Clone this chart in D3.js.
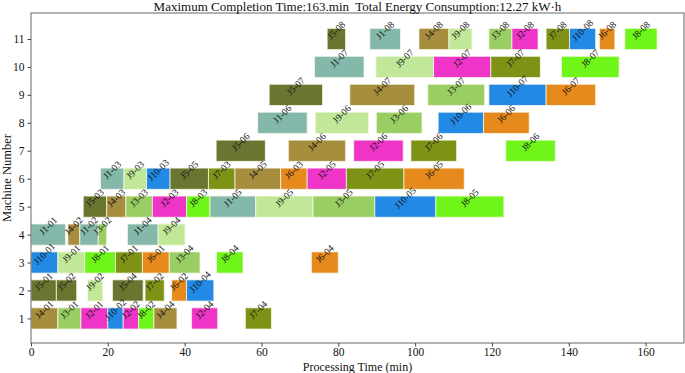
<!DOCTYPE html>
<html><head><meta charset="utf-8">
<script src="https://cdn.jsdelivr.net/npm/d3@7"></script>
<style>body{margin:0;background:#fff} svg{display:block}</style>
</head><body>
<script>
const titleText = "Maximum Completion Time:163.min  Total Energy Consumption:12.27 kW·h";
const xLabel = "Processing Time (min)";
const yLabel = "Machine Number";
const machineTicks = [1,2,3,4,5,6,7,8,9,10,11];
const timeTicks = [0,20,40,60,80,100,120,140,160];

const opLabels = [
 "J4-01","J3-01","J2-01","J10-02","J2-02","J8-02","J4-04","J2-04","J7-04",
 "J5-01","J5-02","J9-02","J5-04","J7-02","J6-02","J10-04",
 "J10-01","J9-01","J8-01","J7-01","J6-01","J3-04","J8-04","J6-04",
 "J1-01","J4-02","J1-02","J3-02","J1-04","J9-04",
 "J5-03","J4-03","J3-03","J2-03","J8-03","J1-05","J9-05","J3-05","J10-05","J8-05",
 "J1-03","J9-03","J10-03","J5-05","J7-03","J4-05","J6-03","J2-05","J7-05","J6-05",
 "J5-06","J4-06","J2-06","J7-06","J8-06",
 "J1-06","J9-06","J3-06","J10-06","J6-06",
 "J5-07","J4-07","J3-07","J10-07","J6-07",
 "J1-07","J9-07","J2-07","J7-07","J8-07",
 "J5-08","J1-08","J4-08","J9-08","J3-08","J2-08","J7-08","J10-08","J6-08","J8-08"
];
const opMachine = [
 1,1,1,1,1,1,1,1,1,
 2,2,2,2,2,2,2,
 3,3,3,3,3,3,3,3,
 4,4,4,4,4,4,
 5,5,5,5,5,5,5,5,5,5,
 6,6,6,6,6,6,6,6,6,6,
 7,7,7,7,7,
 8,8,8,8,8,
 9,9,9,9,9,
 10,10,10,10,10,
 11,11,11,11,11,11,11,11,11,11
];
const opStart = [
 0,7,13,20,24,28,32,41.8,55.8,
 0,6.6,14.7,21.2,29.7,36.6,40.5,
 0,7,14,22,29,36,48.3,73,
 0,9.6,12.7,17.5,25.1,33.1,
 13.6,19.7,24.7,31.6,40.5,46.6,58.5,73.4,89.5,105.4,
 18.1,24.2,30.1,36.2,46.2,53.1,65,71.9,82.1,97.1,
 48.2,67,84,98.9,123.6,
 59,74,89.9,106,117.8,
 62,83,103.3,119.2,134.1,
 73.8,89.8,104.8,119.7,138.1,
 77.1,88.2,101,108.8,119.2,125.2,134.1,140.2,148,154.6
];
const opEnd = [
 7,13,20,24,28,32,38,48.6,62.6,
 6.6,11.9,18.7,29.2,34.7,40.5,47.6,
 7,14,22,29,36,44,55.2,80,
 9,12.7,17.5,19.7,33.1,40.1,
 19.7,24.7,31.6,40.5,46.6,58.5,73.4,89.5,105.4,123.1,
 24.2,30.1,36.2,46.2,53.1,65,71.9,82.1,97.1,112.8,
 61,81.9,96.9,110.8,136.5,
 71.9,87.9,101.8,117.8,129.7,
 75.9,99.9,118.1,134.1,147,
 86.7,104.8,119.7,132.6,153.1,
 81.9,96.2,108.8,114.8,125.2,132,140.2,147,152,163
];
const jobColors = ["#84B8AA","#EE35C8","#9ACD62","#A68E3E","#6B7532",
                   "#E68A1E","#7E9316","#6FF51A","#C0E898","#2289E4"];

const W = 685, H = 373;
const m = {left: 31, right: 1, top: 13, bottom: 30};
const svg = d3.select("body").append("svg").attr("width", W).attr("height", H)
  .style("font-family", "'Liberation Serif','Times New Roman',serif");

const x = d3.scaleLinear().domain([0, 170]).range([m.left, W - m.right]);
const y = d3.scaleLinear().domain([0.12, 11.93]).range([H - m.bottom, m.top]);
const barH = (y(0) - y(0.76));

const ops = opLabels.map((l, i) => ({
  label: l, machine: opMachine[i], start: opStart[i], end: opEnd[i],
  job: +l.slice(1, l.indexOf("-"))
}));

svg.append("g").selectAll("rect").data(ops).join("rect")
  .attr("x", d => x(d.start))
  .attr("y", d => y(d.machine) - barH / 2)
  .attr("width", d => x(d.end) - x(d.start))
  .attr("height", barH)
  .attr("fill", d => jobColors[d.job - 1])
  .attr("stroke", "rgba(250,250,235,0.75)")
  .attr("stroke-width", 1);

svg.append("g").selectAll("text").data(ops).join("text")
  .attr("transform", d => `translate(${x((d.start + d.end) / 2)},${y(d.machine) - 8.5}) rotate(-45)`)
  .attr("text-anchor", "middle")
  .attr("dominant-baseline", "central")
  .attr("font-size", 9.5)
  .attr("fill", "#111")
  .text(d => d.label);

// frame
svg.append("rect")
  .attr("x", m.left).attr("y", m.top)
  .attr("width", W - m.right - m.left).attr("height", H - m.bottom - m.top)
  .attr("fill", "none").attr("stroke", "#666").attr("stroke-width", 1);

const xAxis = svg.append("g").attr("transform", `translate(0,${H - m.bottom})`)
  .call(d3.axisBottom(x).tickValues(timeTicks).tickSize(3.5).tickPadding(1));
const yAxis = svg.append("g").attr("transform", `translate(${m.left},0)`)
  .call(d3.axisLeft(y).tickValues(machineTicks).tickSize(3.5).tickPadding(3));
[xAxis, yAxis].forEach(a => {
  a.select(".domain").remove();
  a.selectAll("line").attr("stroke", "#444");
  a.selectAll("text").attr("font-size", 11.5).attr("fill", "#111")
    .style("font-family", "'Liberation Serif','Times New Roman',serif");
});

svg.append("text").attr("x", (m.left + W - m.right) / 2).attr("y", 11)
  .attr("text-anchor", "middle").attr("font-size", 13).attr("fill", "#111")
  .style("white-space", "pre").text(titleText);

svg.append("text").attr("x", (m.left + W - m.right) / 2).attr("y", 371)
  .attr("text-anchor", "middle").attr("font-size", 12).attr("fill", "#111")
  .text(xLabel);

svg.append("text")
  .attr("transform", `translate(11,${(m.top + H - m.bottom) / 2}) rotate(-90)`)
  .attr("text-anchor", "middle").attr("font-size", 12.5).attr("fill", "#111")
  .text(yLabel);
</script>
</body></html>
